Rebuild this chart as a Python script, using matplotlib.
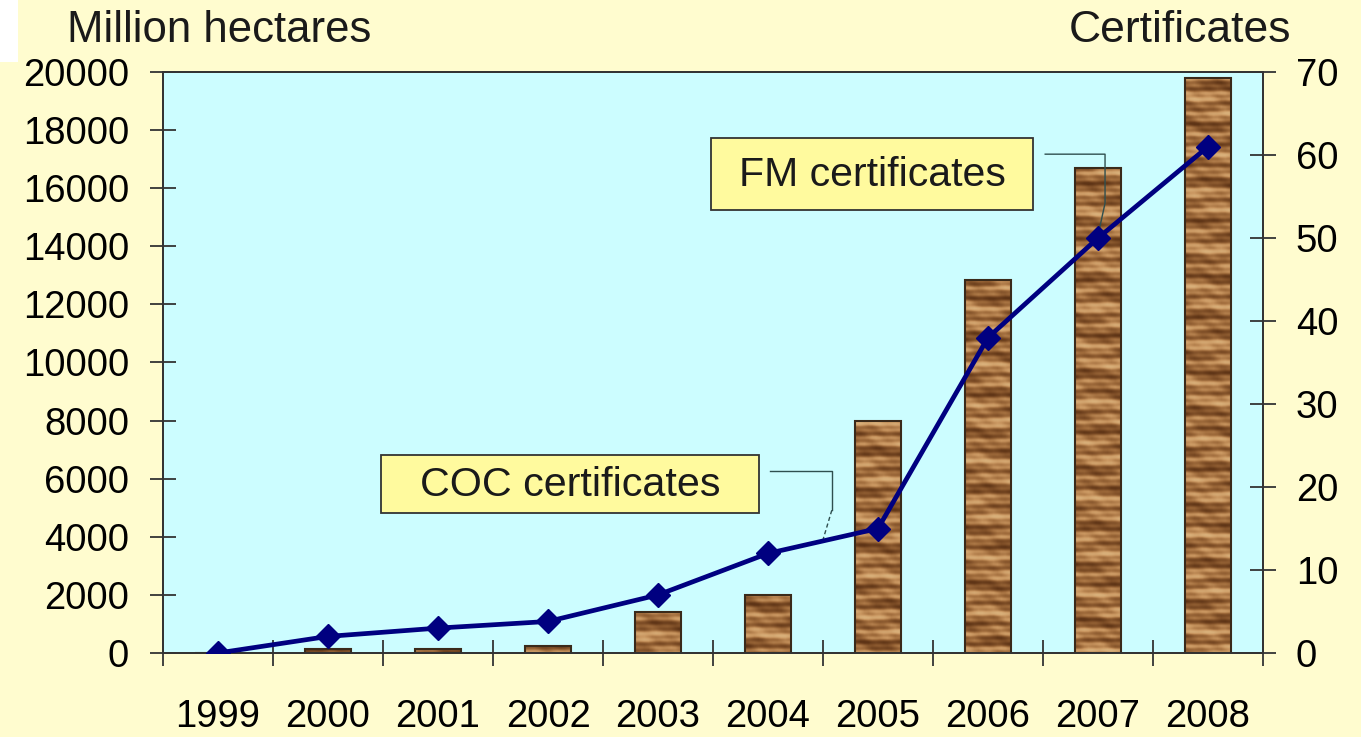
import numpy as np
import matplotlib.pyplot as plt
from matplotlib.patches import Rectangle
from matplotlib.colors import LinearSegmentedColormap

years = ['1999', '2000', '2001', '2002', '2003', '2004', '2005', '2006', '2007', '2008']
hectares = [0, 150, 150, 250, 1400, 2000, 8000, 12850, 16700, 19800]
certificates = [0, 2, 3, 3.8, 7, 12, 15, 38, 50, 61]

plt.rcParams['font.family'] = ['Liberation Sans', 'DejaVu Sans']
plt.rcParams['text.color'] = '#1a1a1a'

W, H = 1361, 737
fig = plt.figure(figsize=(W / 100, H / 100), dpi=100, facecolor='#FFFCCF')
fig.patches.append(Rectangle((0, 1 - 62 / H), 18 / W, 62 / H, transform=fig.transFigure,
                             facecolor='white', edgecolor='none'))

ax = fig.add_axes([163 / W, 84 / H, 1100 / W, 581 / H])
ax.set_facecolor('#CCFDFF')

x = np.arange(len(years))
bw = 0.41
bars = ax.bar(x, hectares, width=bw, facecolor='none', edgecolor='#3a2a1a', lw=1.5, zorder=3)

# wood grain texture for the bars
wood = LinearSegmentedColormap.from_list('wood', ['#5e3416', '#7d4d26', '#a06c3c', '#c99660', '#d9b07a'])
for b, h in zip(bars, hectares):
    if h <= 0:
        continue
    n = max(int(h / 20000 * 581), 2)
    yy = np.arange(n)[::-1][:, None].astype(float) + b.get_x() * 37
    xx = np.arange(12)[None, :].astype(float)
    g = (0.55 + 0.2 * np.sin(yy * 0.33 + 0.6 * np.sin(xx * 0.5 + yy * 0.05))
         + 0.13 * np.sin(yy * 0.91 + 1.1) + 0.12 * np.sin(yy * 0.13 + xx * 0.2)
         + 0.06 * np.sin(xx * 1.3 + yy * 0.4))
    im = ax.imshow(g, cmap=wood, vmin=0.1, vmax=1.0, aspect='auto', interpolation='bilinear',
                   extent=[b.get_x(), b.get_x() + bw, 0, h], zorder=2)
    im.set_clip_path(b)

ax.set_xlim(-0.5, len(years) - 0.5)
ax.set_ylim(0, 20000)
ax.set_yticks(range(0, 20001, 2000))
ax.set_xticks(x, years)
ax.set_xticks(np.arange(-0.5, len(years)), minor=True)
ax.tick_params(axis='x', which='major', length=0, pad=33, labelsize=27.5)
ax.tick_params(axis='x', which='minor', direction='inout', length=19, width=1.3, color='#333333')
ax.tick_params(axis='y', direction='inout', length=19, width=1.3, color='#333333', pad=15, labelsize=27.5)

ax2 = ax.twinx()
ax2.set_ylim(0, 70)
ax2.set_yticks(range(0, 71, 10))
ax2.tick_params(axis='y', direction='inout', length=19, width=1.3, color='#333333', pad=14, labelsize=27.5)
ax2.plot(x, certificates, color='#000080', lw=3.4, marker='D', ms=12, zorder=5)

for a in (ax, ax2):
    for s in a.spines.values():
        s.set_color('#333333')
        s.set_linewidth(1.3)

# annotation boxes with leader lines
ax2.add_patch(Rectangle((1.482, 16.87), 3.436, 6.99, facecolor='#FFFA9E', edgecolor='#333333', lw=1.3, zorder=6))
ax2.text(3.2, 20.3, 'COC certificates', ha='center', va='center', fontsize=29.7, zorder=7)
ax2.plot([5.02, 5.58, 5.58], [21.9, 21.9, 17.2], color='#2f4f4f', lw=1, zorder=4)
ax2.plot([5.58, 5.49], [17.2, 13.2], color='#2f4f4f', lw=1, ls=(0, (3, 2)), zorder=4)

ax2.add_patch(Rectangle((4.482, 53.37), 2.927, 8.68, facecolor='#FFFA9E', edgecolor='#333333', lw=1.3, zorder=6))
ax2.text(5.945, 57.6, 'FM certificates', ha='center', va='center', fontsize=29.5, zorder=7)
ax2.plot([7.52, 8.064, 8.064, 8.0], [60.1, 60.1, 54.2, 50.3], color='#2f4f4f', lw=1, zorder=4)

fig.text(67 / W, 1 - 31 / H, 'Million hectares', ha='left', va='center', fontsize=31.5)
fig.text(1291 / W, 1 - 31 / H, 'Certificates', ha='right', va='center', fontsize=32)

fig.savefig('out.png', dpi=100, facecolor=fig.get_facecolor())
